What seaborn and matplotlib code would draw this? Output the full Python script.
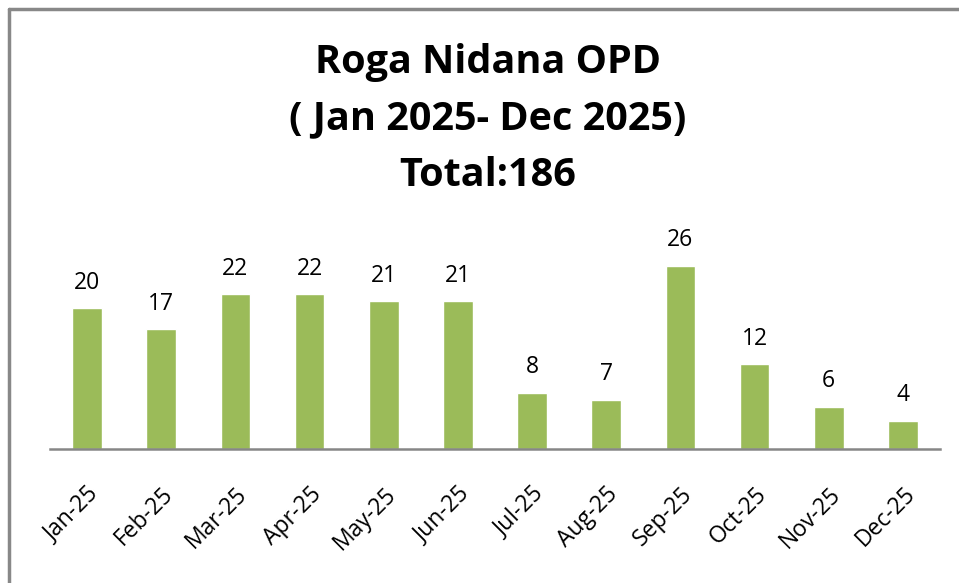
import matplotlib
matplotlib.use("Agg")
import matplotlib.pyplot as plt
from matplotlib.lines import Line2D
import seaborn as sns
import pandas as pd

# ---- Data ----
months = ["Jan-25", "Feb-25", "Mar-25", "Apr-25", "May-25", "Jun-25",
          "Jul-25", "Aug-25", "Sep-25", "Oct-25", "Nov-25", "Dec-25"]
patients = [20, 17, 22, 22, 21, 21, 8, 7, 26, 12, 6, 4]
title_lines = ["Roga Nidana OPD", "( Jan 2025- Dec 2025)", "Total:186"]

df = pd.DataFrame({"Month": months, "Patients": patients})

# ---- Style ----
sns.set_style("white")
plt.rcParams["font.family"] = ["Open Sans", "DejaVu Sans"]
plt.rcParams["text.color"] = "black"
plt.rcParams["xtick.color"] = "black"

fig = plt.figure(figsize=(9.59, 5.83), dpi=100)
W, H = 959, 583
ax = fig.add_axes([50 / W, 1 - 449 / H, 890 / W, (449 - 230) / H])

sns.barplot(data=df, x="Month", y="Patients", color="#9BBB59",
            width=0.4, saturation=1, ax=ax)

ax.set_ylim(0, 31.1)
ax.set_xlim(-0.5, len(months) - 0.5)
ax.set_xlabel("")
ax.set_ylabel("")
ax.set_yticks([])
for s in ["top", "right", "left"]:
    ax.spines[s].set_visible(False)
ax.spines["bottom"].set_color("#868686")
ax.spines["bottom"].set_linewidth(1.8)

ax.tick_params(axis="x", length=0, pad=24, labelsize=16.5, labelcolor="black")
plt.setp(ax.get_xticklabels(), rotation=45, ha="right",
         rotation_mode="anchor")

# data labels
for i, v in enumerate(patients):
    ax.annotate(str(v), (i, v), xytext=(0, 14), textcoords="offset points",
                ha="center", va="baseline", fontsize=16.5, color="black")

# title, one line at a time
for k, line in enumerate(title_lines):
    fig.text(488 / W, 1 - (62 + 57 * k) / H, line, ha="center", va="center",
             fontsize=28.5, fontweight="bold", color="black")

# chart border (left + top visible)
fig.add_artist(Line2D([9 / W, 9 / W], [0, 1 - 9 / H], transform=fig.transFigure,
                      color="#888888", linewidth=2.5))
fig.add_artist(Line2D([9 / W, 1], [1 - 9 / H, 1 - 9 / H], transform=fig.transFigure,
                      color="#888888", linewidth=2.5))

fig.savefig("out.png", dpi=100, facecolor="white")
